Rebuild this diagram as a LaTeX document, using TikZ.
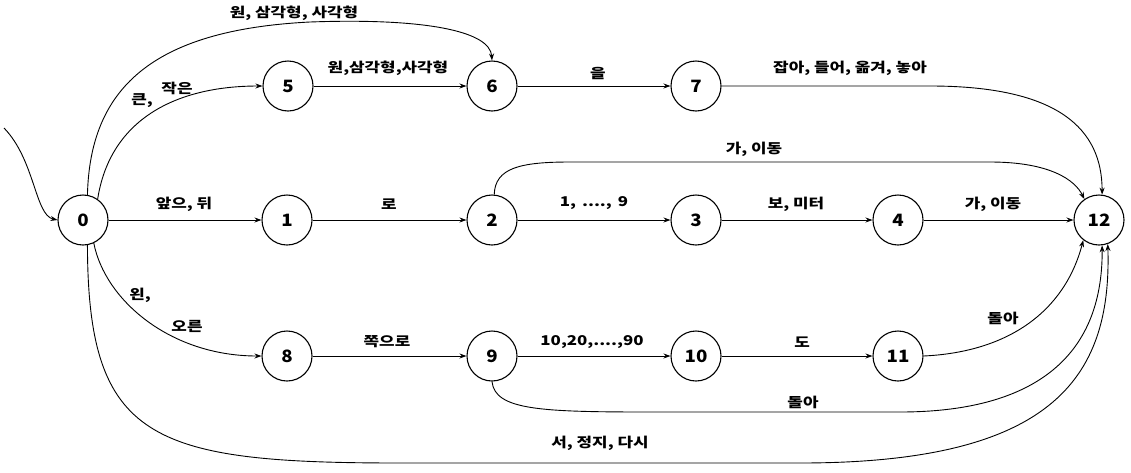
\documentclass[tikz,border=0pt]{standalone}
\usepackage{fontspec}
\setmainfont{Noto Sans CJK KR}
\newfontfamily\lblfont{Noto Sans CJK KR}[FakeStretch=1.25]
\newfontfamily\numfont{Noto Sans CJK KR}[FakeStretch=1.1]
\usetikzlibrary{arrows.meta}
\tikzset{
  state/.style={circle,draw,line width=1.1pt,minimum size=50pt,inner sep=0pt,font=\numfont\bfseries\fontsize{17}{17}\selectfont},
  lbl/.style={inner sep=0pt,font=\lblfont\bfseries\fontsize{13.5}{14}\selectfont},
  arr/.style={line width=0.9pt,-{Stealth[length=7pt,width=5pt]}}
}
\begin{document}
\begin{tikzpicture}[x=1pt,y=-1pt]
\useasboundingbox (0,0) rectangle (1131,472);
\node[state] (n0) at (83,220) {0};
\node[state] (n1) at (287,220) {1};
\node[state] (n2) at (492,220) {2};
\node[state] (n3) at (696,220) {3};
\node[state] (n4) at (898,220) {4};
\node[state] (n12) at (1099,220) {12};
\node[state] (n5) at (288,86) {5};
\node[state] (n6) at (492,86) {6};
\node[state] (n7) at (696,86) {7};
\node[state] (n8) at (287,356) {8};
\node[state] (n9) at (492,356) {9};
\node[state] (n10) at (696,356) {10};
\node[state] (n11) at (898,356) {11};
\coordinate (in0) at (4,128);
% incoming
\draw[arr] (in0) .. controls (35,160) and (35,215) .. (n0.west);
% top arc 0 -> 6
\draw[arr] (n0.80) .. controls (90,90) and (150,30) .. (310,22) .. controls (420,18) and (490,30) .. (n6.north);
\node[lbl] (l06) at (294,13) {원, 삼각형, 사각형};
% 0 -> 5
\draw[arr] (n0.55) .. controls (110,120) and (175,86) .. (n5.west);
\node[lbl] (l05a) at (142,101) {큰,};
\node[lbl] (l05b) at (177,88) {작은};
% 5 -> 6
\draw[arr] (n5) -- (n6);
\node[lbl] (l56) at (388,68) {원,삼각형,사각형};
% 6 -> 7
\draw[arr] (n6) -- (n7);
\node[lbl] (l67) at (598,73) {을};
% 7 -> 12
\draw[arr] (n7.east) -- (930,86) .. controls (1060,86) and (1102,130) .. (n12.83);
\node[lbl] (l712) at (850,68) {잡아, 들어, 옮겨, 놓아};
% middle row
\draw[arr] (n0) -- (n1);
\node[lbl] (l01) at (184,204) {앞으, 뒤};
\draw[arr] (n1) -- (n2);
\node[lbl] (l12) at (389,204) {로};
\draw[arr] (n2) -- (n3);
\node[lbl] (l23) at (594,203) {1, \,...., \,9};
\draw[arr] (n3) -- (n4);
\node[lbl] (l34) at (796,204) {보, 미터};
\draw[arr] (n4) -- (n12);
\node[lbl] (l412) at (993,204) {가, 이동};
% 2 -> 12 arc
\draw[arr] (n2.85) .. controls (495,168) and (520,162) .. (570,162) -- (990,162) .. controls (1050,162) and (1075,180) .. (n12.125);
\node[lbl] (l212) at (754,149) {가, 이동};
% 0 -> 8
\draw[arr] (n0.-65) .. controls (105,300) and (170,356) .. (n8.west);
\node[lbl] (l08a) at (140,295) {왼,};
\node[lbl] (l08b) at (187,326) {오른};
% bottom row
\draw[arr] (n8) -- (n9);
\node[lbl] (l89) at (387,342) {쪽으로};
\draw[arr] (n9) -- (n10);
\node[lbl] (l910) at (592,342) {10,20,....,90};
\draw[arr] (n10) -- (n11);
\node[lbl] (l1011) at (802,342) {도};
% 11 -> 12
\draw[arr] (n11.east) .. controls (1010,352) and (1065,310) .. (n12.-128);
\node[lbl] (l1112) at (1003,318) {돌아};
% 9 -> 12
\draw[arr] (n9.south) .. controls (495,410) and (540,412) .. (650,412) -- (900,412) .. controls (1030,412) and (1103,360) .. (n12.-83);
\node[lbl] (l912) at (803,402) {돌아};
% 0 -> 12 bottom
\draw[arr] (n0.-80) .. controls (88,440) and (150,463) .. (400,463) -- (800,463) .. controls (1050,463) and (1112,380) .. (n12.-70);
\node[lbl] (l012) at (600,443) {서, 정지, 다시};
\end{tikzpicture}
\end{document}
